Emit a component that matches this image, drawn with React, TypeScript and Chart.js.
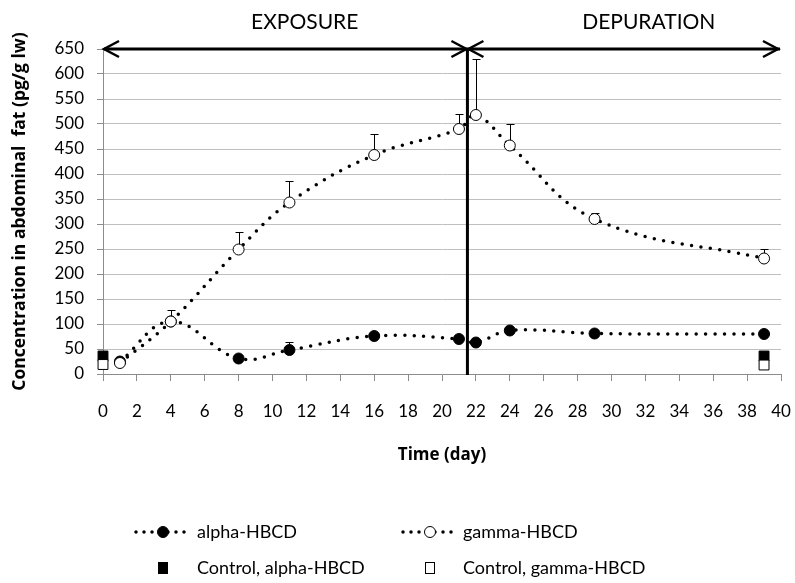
import React, { useEffect, useRef } from "react";
import { Chart, registerables } from "chart.js";

Chart.register(...registerables);

// ---- data ----
const days = [1, 4, 8, 11, 16, 21, 22, 24, 29, 39];
const alphaValues = [25, 105, 31, 48, 76, 70, 63, 87, 81, 80];
const alphaErrTop: (number | null)[] = [null, null, null, 65, 80, null, null, null, null, null];
const gammaValues = [22, 105, 249, 343, 438, 490, 518, 457, 310, 231];
const gammaErrTop: (number | null)[] = [null, 129, 284, 386, 481, 520, 630, 500, 322, 250];
const controlDays = [0, 39];
const controlAlpha = [36, 36];
const controlGamma = [19, 18];
const phaseBoundary = 21.5;
const phaseLabels = ["EXPOSURE", "DEPURATION"];
const phaseLabelX = [11.9, 32.2];
const legendLabels = ["alpha-HBCD", "gamma-HBCD", "Control, alpha-HBCD", "Control, gamma-HBCD"];
const xTitle = "Time (day)";
const yTitle = "Concentration in abdominal  fat (pg/g lw)";

const FONT = "Lato, 'Open Sans', sans-serif";
const TITLE_FONT = "'Open Sans', Lato, sans-serif";

const overlayPlugin = {
  id: "overlay",
  beforeDatasetsDraw(chart: any) {
    const { ctx, scales } = chart;
    const x = scales.x;
    const y = scales.y;
    ctx.save();
    ctx.strokeStyle = "#000";
    ctx.lineWidth = 1;
    const drawErr = (vals: number[], tops: (number | null)[]) => {
      days.forEach((d, i) => {
        const t = tops[i];
        if (t == null) return;
        const px = Math.round(x.getPixelForValue(d)) + 0.5;
        const py0 = y.getPixelForValue(vals[i]);
        const py1 = Math.round(y.getPixelForValue(t)) + 0.5;
        ctx.beginPath();
        ctx.moveTo(px, py0);
        ctx.lineTo(px, py1);
        ctx.moveTo(px - 4, py1);
        ctx.lineTo(px + 4, py1);
        ctx.stroke();
      });
    };
    drawErr(alphaValues, alphaErrTop);
    drawErr(gammaValues, gammaErrTop);
    ctx.restore();
  },
  afterDraw(chart: any) {
    const { ctx, scales } = chart;
    const x = scales.x;
    const y = scales.y;
    const top = y.getPixelForValue(650);
    const x0 = x.getPixelForValue(0);
    const xb = x.getPixelForValue(phaseBoundary);
    const x1 = x.getPixelForValue(40);
    const bottom = y.getPixelForValue(0);
    ctx.save();
    ctx.strokeStyle = "#000";
    ctx.lineWidth = 3;
    ctx.lineCap = "butt";
    ctx.beginPath();
    ctx.moveTo(x0 + 1, top);
    ctx.lineTo(x1 - 1, top);
    ctx.stroke();
    ctx.beginPath();
    ctx.moveTo(xb, top);
    ctx.lineTo(xb, bottom + 1);
    ctx.stroke();
    ctx.lineWidth = 2.5;
    ctx.lineJoin = "miter";
    const head = (tx: number, dir: number) => {
      ctx.beginPath();
      ctx.moveTo(tx - dir * 15, top - 8);
      ctx.lineTo(tx, top);
      ctx.lineTo(tx - dir * 15, top + 8);
      ctx.stroke();
    };
    head(x0 + 1, -1);
    head(xb - 1, 1);
    head(xb + 1, -1);
    head(x1 - 3, 1);
    ctx.fillStyle = "#000";
    ctx.font = `21px ${FONT}`;
    ctx.textAlign = "center";
    ctx.textBaseline = "middle";
    phaseLabels.forEach((t, i) => {
      ctx.fillText(t, x.getPixelForValue(phaseLabelX[i]), top - 27);
    });

    // legend
    const rows = [532, 568];
    const cols = [163, 430];
    const textX = [197, 463];
    ctx.font = `18px ${FONT}`;
    ctx.textAlign = "left";
    ctx.textBaseline = "middle";
    for (let c = 0; c < 2; c++) {
      const cy = rows[0];
      const cx = cols[c];
      ctx.save();
      ctx.strokeStyle = "#000";
      ctx.lineWidth = 3.5;
      ctx.lineCap = "round";
      ctx.setLineDash([0, 8]);
      ctx.beginPath();
      ctx.moveTo(cx - 27, cy);
      ctx.lineTo(cx + 22, cy);
      ctx.stroke();
      ctx.restore();
      ctx.beginPath();
      ctx.arc(cx, cy, 5.5, 0, Math.PI * 2);
      ctx.fillStyle = c === 0 ? "#000" : "#fff";
      ctx.fill();
      ctx.lineWidth = 1;
      ctx.strokeStyle = "#000";
      ctx.stroke();
      ctx.fillStyle = "#000";
      ctx.fillText(legendLabels[c], textX[c], cy);
    }
    for (let c = 0; c < 2; c++) {
      const cy = rows[1];
      const cx = cols[c];
      ctx.fillStyle = c === 0 ? "#000" : "#fff";
      ctx.fillRect(cx - 4.5, cy - 5.5, 9, 11);
      ctx.lineWidth = 1;
      ctx.strokeStyle = "#000";
      ctx.strokeRect(cx - 4.5, cy - 5.5, 9, 11);
      ctx.fillStyle = "#000";
      ctx.fillText(legendLabels[c + 2], textX[c], cy);
    }
    ctx.restore();
  },
};

export default function App() {
  const ref = useRef<HTMLCanvasElement | null>(null);
  useEffect(() => {
    if (!ref.current) return;
    const dotted = {
      borderColor: "#000",
      borderWidth: 3.5,
      borderDash: [0, 9.5],
      borderCapStyle: "round" as const,
      tension: 0.4,
      pointRadius: 5.5,
      pointBorderWidth: 1,
      pointBorderColor: "#000",
      fill: false,
    };
    const chart = new Chart(ref.current, {
      type: "line",
      data: {
        datasets: [
          {
            label: legendLabels[2],
            data: controlDays.map((d, i) => ({ x: d, y: controlAlpha[i] })),
            showLine: false,
            pointStyle: "rect",
            pointRadius: 7,
            pointBackgroundColor: "#000",
            pointBorderColor: "#000",
            pointBorderWidth: 1,
            clip: false,
            order: 4,
          },
          {
            label: legendLabels[3],
            data: controlDays.map((d, i) => ({ x: d, y: controlGamma[i] })),
            showLine: false,
            pointStyle: "rect",
            pointRadius: 7,
            pointBackgroundColor: "#fff",
            pointBorderColor: "#000",
            pointBorderWidth: 1,
            clip: false,
            order: 3,
          },
          {
            label: legendLabels[0],
            data: days.map((d, i) => ({ x: d, y: alphaValues[i] })),
            ...dotted,
            pointBackgroundColor: "#000",
            order: 2,
          },
          {
            label: legendLabels[1],
            data: days.map((d, i) => ({ x: d, y: gammaValues[i] })),
            ...dotted,
            pointBackgroundColor: "#fff",
            order: 1,
          },
        ],
      },
      options: {
        animation: false,
        responsive: false,
        maintainAspectRatio: false,
        layout: { padding: { left: 0, top: 49, right: 14, bottom: 118 } },
        plugins: { legend: { display: false }, tooltip: { enabled: false } },
        scales: {
          x: {
            type: "linear",
            min: 0,
            max: 40,
            afterFit: (s: any) => {
              s.height = 91;
              s.paddingLeft = 0;
              s.paddingRight = 0;
            },
            ticks: {
              stepSize: 2,
              color: "#000",
              font: { family: FONT, size: 17 },
              padding: 20,
              maxRotation: 0,
            },
            grid: {
              drawOnChartArea: false,
              drawTicks: true,
              tickLength: 7,
              color: "#8c8c8c",
            },
            border: { color: "#8c8c8c" },
            title: {
              display: true,
              text: xTitle,
              color: "#000",
              font: { family: TITLE_FONT, size: 17, weight: "bold" },
              padding: { top: 0, bottom: 0 },
            },
          },
          y: {
            min: 0,
            max: 650,
            afterFit: (s: any) => {
              s.width = 103;
            },
            ticks: {
              stepSize: 50,
              color: "#000",
              font: { family: FONT, size: 17 },
              padding: 13,
            },
            grid: { color: "#bfbfbf", tickLength: 6, tickColor: "#8c8c8c" },
            border: { color: "#8c8c8c" },
            title: {
              display: true,
              text: yTitle,
              color: "#000",
              font: { family: TITLE_FONT, size: 17.5, weight: "bold" },
              padding: { top: 9.5, bottom: 0 },
            },
          },
        },
      },
      plugins: [overlayPlugin],
    });
    return () => chart.destroy();
  }, []);
  return (
    <div style={{ position: "absolute", left: 0, top: 0, width: 795, height: 583, background: "#fff" }}>
      <canvas ref={ref} width={795} height={583} style={{ width: 795, height: 583 }} />
    </div>
  );
}
